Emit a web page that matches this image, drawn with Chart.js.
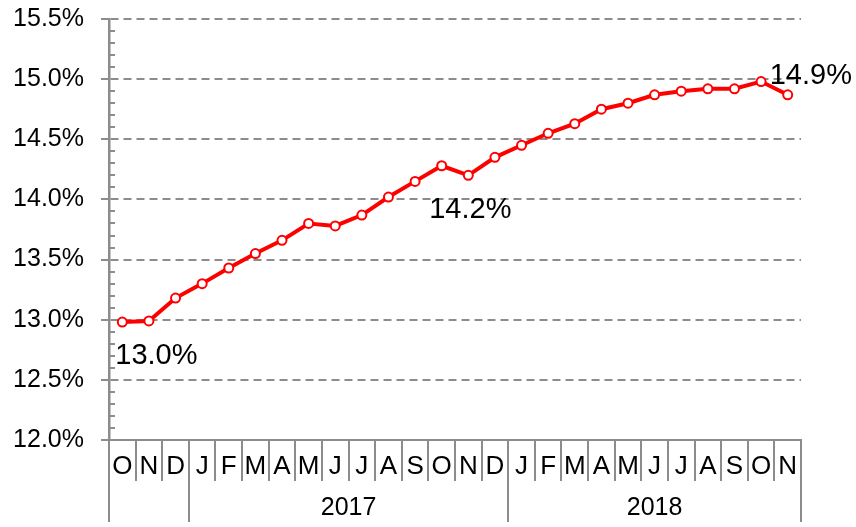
<!DOCTYPE html>
<html>
<head>
<meta charset="utf-8">
<script src="https://cdn.jsdelivr.net/npm/chart.js@4.4.0/dist/chart.umd.min.js"></script>
<style>
  body { margin: 0; background: #fff; }
  #wrap { width: 856px; height: 527px; }
</style>
</head>
<body>
<div id="wrap"><canvas id="rateChart" width="856" height="527"></canvas></div>
<script>
// monthly values, Oct 2016 .. Nov 2018
const months = ['O','N','D','J','F','M','A','M','J','J','A','S','O','N','D','J','F','M','A','M','J','J','A','S','O','N'];
const rates = [12.98, 12.99, 13.18, 13.30, 13.43, 13.55, 13.66, 13.80, 13.78, 13.87, 14.02, 14.15,
               14.28, 14.20, 14.35, 14.45, 14.55, 14.63, 14.75, 14.80, 14.87, 14.90, 14.92, 14.92, 14.98, 14.87];
const years = ['2017', '2018'];
const yearFirst = [3, 15];   // first month index of each year
const yearLast = [14, 25];   // last month index of each year
const calloutIdx = [0, 13, 25];
const calloutText = ['13.0%', '14.2%', '14.9%'];

const FONT = "'Liberation Sans', Arial, sans-serif";
const AXIS_GREY = '#8c8c8c';

const axisExtras = {
  id: 'axisExtras',
  afterDraw(chart) {
    const ctx = chart.ctx;
    const xs = chart.scales.x;
    const ys = chart.scales.y;
    const axisY = ys.bottom;
    const edge = i => xs.getPixelForValue(i - 0.5);

    ctx.save();
    ctx.strokeStyle = AXIS_GREY;
    ctx.lineWidth = 2;

    // minor ticks on the inside of the value axis
    for (let k = 1; k < 35; k++) {
      if (k % 5 === 0) continue;
      const py = Math.round(ys.getPixelForValue(12 + k / 10));
      ctx.beginPath();
      ctx.moveTo(xs.left, py);
      ctx.lineTo(xs.left + 6, py);
      ctx.stroke();
    }

    // month separators, longer ones at year breaks
    const longEdges = [0, ...yearFirst, months.length];
    for (let i = 0; i <= months.length; i++) {
      const px = Math.round(edge(i));
      const len = longEdges.includes(i) ? 82 : 41;
      ctx.beginPath();
      ctx.moveTo(px, axisY);
      ctx.lineTo(px, axisY + len);
      ctx.stroke();
    }

    // year labels
    ctx.fillStyle = '#000';
    ctx.font = '25px ' + FONT;
    ctx.textAlign = 'center';
    ctx.textBaseline = 'alphabetic';
    years.forEach((yr, j) => {
      const cx = (edge(yearFirst[j]) + edge(yearLast[j] + 1)) / 2;
      ctx.fillText(yr, cx, axisY + 75);
    });

    // value callouts
    const pts = chart.getDatasetMeta(0).data;
    ctx.font = '29px ' + FONT;
    calloutIdx.forEach((idx, j) => {
      const p = pts[idx];
      if (j === 0) {
        ctx.textAlign = 'left';
        ctx.fillText(calloutText[j], p.x - 7, p.y + 42);
      } else if (j === 1) {
        ctx.textAlign = 'center';
        ctx.fillText(calloutText[j], p.x + 2, p.y + 43);
      } else {
        ctx.textAlign = 'left';
        ctx.fillText(calloutText[j], p.x - 18, p.y - 11);
      }
    });
    ctx.restore();
  }
};

new Chart(document.getElementById('rateChart'), {
  type: 'line',
  data: {
    labels: months,
    datasets: [{
      data: rates,
      borderColor: '#ff0000',
      borderWidth: 4,
      backgroundColor: '#ffffff',
      pointBackgroundColor: '#ffffff',
      pointBorderColor: '#ff0000',
      pointBorderWidth: 2,
      pointRadius: 4.5,
      tension: 0
    }]
  },
  options: {
    responsive: false,
    animation: false,
    layout: { padding: { top: 0, right: 55, bottom: 0, left: 0 } },
    plugins: {
      legend: { display: false },
      tooltip: { enabled: false }
    },
    scales: {
      x: {
        type: 'category',
        offset: true,
        grid: { display: false, drawTicks: false },
        border: { display: true, color: AXIS_GREY, width: 2 },
        ticks: {
          autoSkip: false,
          maxRotation: 0,
          minRotation: 0,
          padding: 11,
          color: '#000',
          font: { family: FONT, size: 26 }
        },
        afterFit(scale) { scale.height = 87; }
      },
      y: {
        min: 12,
        max: 15.5,
        grid: {
          color: AXIS_GREY,
          lineWidth: 2,
          drawTicks: true,
          tickLength: 8,
          tickColor: AXIS_GREY,
          tickWidth: 2
        },
        border: { display: true, color: AXIS_GREY, width: 2.5, dash: [8, 5] },
        ticks: {
          stepSize: 0.5,
          padding: 17,
          color: '#000',
          font: { family: FONT, size: 25 },
          callback: v => v.toFixed(1) + '%'
        },
        afterFit(scale) {
          scale.width = 109;
          scale.paddingTop = 19;
        }
      }
    }
  },
  plugins: [axisExtras]
});
</script>
</body>
</html>
